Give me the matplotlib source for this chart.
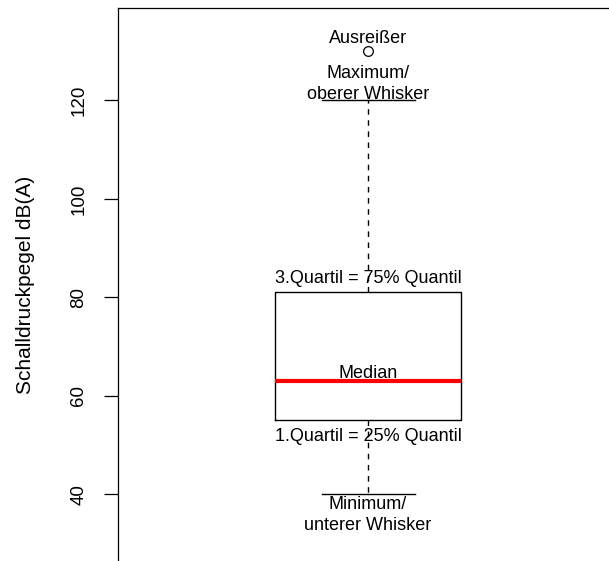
import matplotlib
matplotlib.use("Agg")
import matplotlib.pyplot as plt

plt.rcParams['font.family'] = ['Liberation Sans', 'DejaVu Sans']

# data
whisker_low = 40
q1 = 55
median = 63
q3 = 81
whisker_high = 120
outliers = [130]
yticks = [40, 60, 80, 100, 120]
ylabel = "Schalldruckpegel dB(A)"
annotations = [
    ("Ausreißer", 132.6),
    ("Maximum/", 125.5),
    ("oberer Whisker", 121.3),
    ("3.Quartil = 75% Quantil", 83.9),
    ("Median", 64.6),
    ("1.Quartil = 25% Quantil", 51.8),
    ("Minimum/", 37.8),
    ("unterer Whisker", 33.7),
]

fig = plt.figure(figsize=(6.09, 5.61), dpi=100)
ax = fig.add_axes([118/609, 0.0, 1 - 118/609, 1 - 8/561])

stats = [dict(whislo=whisker_low, q1=q1, med=median, q3=q3, whishi=whisker_high,
              fliers=outliers)]
ax.bxp(stats, positions=[1], widths=0.744, capwidths=0.372,
       boxprops=dict(color='black', linewidth=1.0),
       whiskerprops=dict(color='black', linewidth=1.0, linestyle=(0, (4, 4))),
       capprops=dict(color='black', linewidth=1.0),
       medianprops=dict(color='red', linewidth=3.0),
       flierprops=dict(marker='o', markerfacecolor='white', markeredgecolor='black',
                       markersize=7, markeredgewidth=0.9))

ax.set_xlim(0, 1.9633)
ax.set_ylim(26.4, 138.8)
ax.set_xticks([])
ax.set_yticks(yticks)
ax.set_yticklabels([str(t) for t in yticks], rotation=90, va='center', fontsize=13.5)
ax.tick_params(axis='y', direction='out', length=10, width=0.9, pad=12)
for s in ['right', 'bottom']:
    ax.spines[s].set_visible(False)
for s in ['left', 'top']:
    ax.spines[s].set_linewidth(0.9)
ax.set_ylabel(ylabel, fontsize=15)
ax.yaxis.set_label_coords((35 - 118) / 491, 0.5)

for txt, yv in annotations:
    ax.text(1, yv, txt, ha='center', va='center', fontsize=13)

fig.savefig("out.png", dpi=100)
